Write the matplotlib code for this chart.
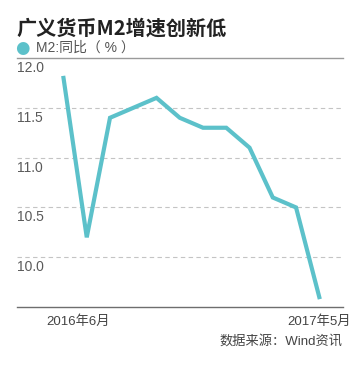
import matplotlib
matplotlib.use("Agg")
import matplotlib.pyplot as plt
import matplotlib.transforms as mtransforms

# M2 year-on-year growth, Jun 2016 - May 2017
months = ["2016年6月", "2016年7月", "2016年8月", "2016年9月", "2016年10月", "2016年11月",
          "2016年12月", "2017年1月", "2017年2月", "2017年3月", "2017年4月", "2017年5月"]
m2_yoy = [11.8, 10.2, 11.4, 11.5, 11.6, 11.4, 11.3, 11.3, 11.1, 10.6, 10.5, 9.6]
y_ticks = [10.0, 10.5, 11.0, 11.5, 12.0]
y_tick_labels = ["10.0", "10.5", "11.0", "11.5", "12.0"]

fonts = ["Liberation Sans", "Noto Sans CJK SC", "DejaVu Sans"]
plt.rcParams["font.family"] = fonts
line_color = "#5cc1ca"

fig = plt.figure(figsize=(3.57, 3.66), dpi=100)
ax = fig.add_axes([0.0476, 0.161, 0.9132, 0.6805])

x = list(range(len(m2_yoy)))
ax.plot(x, m2_yoy, color=line_color, lw=3.0, solid_joinstyle="miter", clip_on=False)

ax.set_xlim(-2, 12.02)
ax.set_ylim(9.5, 12.0)

# dashed grid
for v in y_ticks[:-1]:
    ax.axhline(v, color="#c4c4c4", lw=0.8, dashes=(4, 3), zorder=0)

for side in ["left", "right"]:
    ax.spines[side].set_visible(False)
ax.spines["top"].set_color("#9a9a9a")
ax.spines["top"].set_linewidth(1.0)
ax.spines["bottom"].set_color("#6e6e6e")
ax.spines["bottom"].set_linewidth(1.0)

# y labels sit just under their gridlines, flush left
ax.set_yticks(y_ticks)
ax.set_yticklabels(y_tick_labels)
ax.tick_params(axis="y", length=0, pad=0, labelsize=10, labelcolor="#5a5a5a")
off = mtransforms.ScaledTranslation(0, -3 / 100, fig.dpi_scale_trans)
for lab in ax.get_yticklabels():
    lab.set_horizontalalignment("left")
    lab.set_verticalalignment("top")
    lab.set_transform(lab.get_transform() + off)

ax.set_xticks([0, len(m2_yoy) - 1])
ax.set_xticklabels([months[0], months[-1]])
ax.tick_params(axis="x", length=0, pad=6, labelsize=9.5, labelcolor="#444444")
first = ax.get_xticklabels()[0]
first.set_transform(first.get_transform() +
                    mtransforms.ScaledTranslation(15 / 100, 0, fig.dpi_scale_trans))

# title, legend and source
fig.text(0.045, 0.924, "广义货币M2增速创新低", fontsize=14.5, fontweight="bold",
         color="#222222", va="center", ha="left", family=["Noto Sans CJK SC", "DejaVu Sans"])
fig.text(0.063, 0.869, "●", fontsize=12, color=line_color, va="center", ha="center",
         family=["DejaVu Sans"])
fig.text(0.1, 0.869, "M2:同比（ % ）", fontsize=10, color="#555555", va="center", ha="left")
fig.text(0.958, 0.068, "数据来源：Wind资讯", fontsize=9.5, color="#444444",
         va="center", ha="right")

fig.savefig("out.png", dpi=100)
